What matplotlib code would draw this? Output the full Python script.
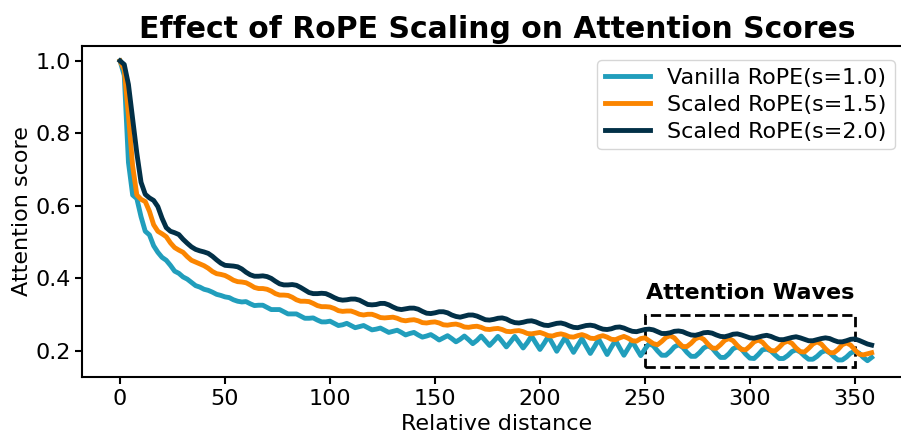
import numpy as np
import matplotlib as mpl
import matplotlib.pyplot as plt
from matplotlib.patches import Rectangle

mpl.use('agg')

# relative distance, sampled every 2 positions
distance = list(range(0, 360, 2))

# values
vanilla = [
    1.000, 0.960, 0.720, 0.630, 0.620, 0.570, 0.530, 0.520, 0.490, 0.472,
    0.458, 0.450, 0.436, 0.420, 0.414, 0.404, 0.398, 0.389, 0.380, 0.376,
    0.370, 0.367, 0.362, 0.356, 0.353, 0.349, 0.347, 0.341, 0.337, 0.335,
    0.336, 0.330, 0.325, 0.326, 0.326, 0.320, 0.314, 0.314, 0.314, 0.308,
    0.302, 0.302, 0.302, 0.296, 0.290, 0.290, 0.291, 0.285, 0.280, 0.280,
    0.282, 0.276, 0.270, 0.272, 0.276, 0.270, 0.264, 0.267, 0.270, 0.264,
    0.258, 0.260, 0.263, 0.257, 0.251, 0.254, 0.257, 0.251, 0.244, 0.248,
    0.251, 0.244, 0.238, 0.241, 0.245, 0.238, 0.230, 0.236, 0.242, 0.234,
    0.225, 0.232, 0.241, 0.231, 0.220, 0.229, 0.241, 0.228, 0.215, 0.227,
    0.240, 0.226, 0.211, 0.225, 0.240, 0.224, 0.208, 0.223, 0.241, 0.222,
    0.204, 0.221, 0.240, 0.220, 0.199, 0.218, 0.237, 0.216, 0.196, 0.215,
    0.234, 0.213, 0.193, 0.212, 0.232, 0.211, 0.190, 0.210, 0.229, 0.208,
    0.188, 0.207, 0.226, 0.206, 0.187, 0.205, 0.220, 0.214, 0.200, 0.188,
    0.188, 0.198, 0.211, 0.217, 0.210, 0.196, 0.185, 0.185, 0.195, 0.208,
    0.214, 0.208, 0.194, 0.182, 0.182, 0.192, 0.206, 0.211, 0.205, 0.191,
    0.180, 0.179, 0.190, 0.203, 0.205, 0.200, 0.189, 0.179, 0.179, 0.187,
    0.198, 0.203, 0.197, 0.186, 0.177, 0.177, 0.185, 0.196, 0.201, 0.195,
    0.184, 0.175, 0.175, 0.183, 0.194, 0.199, 0.194, 0.182, 0.173, 0.182,
]

scaled_15 = [
    1.000, 0.975, 0.850, 0.710, 0.630, 0.618, 0.612, 0.585, 0.548, 0.530,
    0.523, 0.515, 0.498, 0.485, 0.478, 0.472, 0.460, 0.450, 0.445, 0.440,
    0.435, 0.428, 0.419, 0.413, 0.411, 0.408, 0.402, 0.395, 0.391, 0.390,
    0.388, 0.382, 0.375, 0.372, 0.372, 0.370, 0.365, 0.358, 0.354, 0.354,
    0.353, 0.348, 0.341, 0.337, 0.337, 0.336, 0.331, 0.325, 0.322, 0.322,
    0.321, 0.317, 0.311, 0.309, 0.310, 0.310, 0.306, 0.301, 0.299, 0.301,
    0.301, 0.297, 0.292, 0.291, 0.292, 0.293, 0.290, 0.285, 0.283, 0.285,
    0.286, 0.283, 0.278, 0.277, 0.279, 0.280, 0.277, 0.272, 0.271, 0.273,
    0.274, 0.271, 0.266, 0.265, 0.267, 0.268, 0.265, 0.260, 0.259, 0.261,
    0.262, 0.259, 0.254, 0.253, 0.255, 0.256, 0.253, 0.248, 0.247, 0.249,
    0.251, 0.247, 0.242, 0.241, 0.245, 0.247, 0.244, 0.239, 0.238, 0.242,
    0.245, 0.241, 0.235, 0.234, 0.239, 0.242, 0.238, 0.232, 0.231, 0.236,
    0.240, 0.235, 0.228, 0.227, 0.234, 0.236, 0.228, 0.220, 0.217, 0.226,
    0.237, 0.242, 0.236, 0.223, 0.212, 0.212, 0.221, 0.233, 0.238, 0.232,
    0.219, 0.208, 0.207, 0.217, 0.229, 0.234, 0.228, 0.215, 0.204, 0.203,
    0.213, 0.225, 0.230, 0.224, 0.211, 0.201, 0.200, 0.210, 0.222, 0.227,
    0.221, 0.208, 0.198, 0.197, 0.207, 0.219, 0.225, 0.219, 0.206, 0.195,
    0.195, 0.204, 0.217, 0.222, 0.216, 0.203, 0.191, 0.189, 0.192, 0.195,
]

scaled_20 = [
    1.000, 0.990, 0.935, 0.840, 0.745, 0.665, 0.632, 0.622, 0.615, 0.598,
    0.566, 0.540, 0.530, 0.526, 0.521, 0.508, 0.497, 0.487, 0.480, 0.476,
    0.473, 0.469, 0.461, 0.451, 0.442, 0.436, 0.435, 0.434, 0.432, 0.426,
    0.417, 0.410, 0.406, 0.406, 0.407, 0.405, 0.400, 0.392, 0.385, 0.382,
    0.382, 0.383, 0.381, 0.375, 0.368, 0.361, 0.358, 0.358, 0.359, 0.358,
    0.353, 0.347, 0.342, 0.340, 0.341, 0.343, 0.343, 0.340, 0.334, 0.328,
    0.327, 0.328, 0.331, 0.331, 0.327, 0.321, 0.316, 0.314, 0.316, 0.318,
    0.318, 0.315, 0.309, 0.304, 0.303, 0.305, 0.308, 0.308, 0.305, 0.299,
    0.295, 0.293, 0.296, 0.299, 0.299, 0.296, 0.291, 0.286, 0.285, 0.287,
    0.290, 0.291, 0.288, 0.282, 0.278, 0.277, 0.279, 0.282, 0.283, 0.280,
    0.275, 0.271, 0.270, 0.273, 0.276, 0.277, 0.274, 0.269, 0.265, 0.264,
    0.267, 0.270, 0.271, 0.269, 0.264, 0.260, 0.259, 0.261, 0.265, 0.266,
    0.263, 0.258, 0.254, 0.253, 0.256, 0.259, 0.260, 0.258, 0.253, 0.248,
    0.248, 0.250, 0.254, 0.255, 0.253, 0.248, 0.244, 0.243, 0.246, 0.250,
    0.251, 0.249, 0.244, 0.240, 0.239, 0.242, 0.246, 0.247, 0.244, 0.240,
    0.236, 0.235, 0.238, 0.241, 0.243, 0.240, 0.235, 0.231, 0.231, 0.234,
    0.237, 0.239, 0.236, 0.232, 0.228, 0.228, 0.231, 0.234, 0.236, 0.234,
    0.229, 0.225, 0.225, 0.228, 0.232, 0.233, 0.229, 0.224, 0.219, 0.216,
]

labels = ['Vanilla RoPE(s=1.0)', 'Scaled RoPE(s=1.5)', 'Scaled RoPE(s=2.0)']
colors = ['#219ebc', '#fb8500', '#023047']

fig = plt.figure(figsize=(9.01, 4.37), dpi=100)
ax = fig.add_axes([0.0913, 0.1373, 0.9204, 0.7574])

for series, label, color in zip([vanilla, scaled_15, scaled_20], labels, colors):
    ax.plot(distance, series, color=color, linewidth=3.5, label=label)

ax.set_xlim(-18, 377)
ax.set_ylim(0.128, 1.041)
ax.set_xticks([0, 50, 100, 150, 200, 250, 300, 350])
ax.set_yticks([0.2, 0.4, 0.6, 0.8, 1.0])
ax.tick_params(labelsize=16, width=1.5, length=5)
for sp in ax.spines.values():
    sp.set_linewidth(1.5)

ax.set_xlabel('Relative distance', fontsize=16, labelpad=4)
ax.set_ylabel('Attention score', fontsize=16, labelpad=2)
ax.set_title('Effect of RoPE Scaling on Attention Scores', fontsize=21.5,
             fontweight='bold', pad=6)

# dashed box around the wavy region
ax.add_patch(Rectangle((250, 0.155), 100, 0.145, fill=False,
                       edgecolor='black', linestyle='--', linewidth=2))
ax.text(300, 0.333, 'Attention Waves', fontsize=16, fontweight='bold',
        ha='center', va='bottom')

ax.legend(loc='upper right', fontsize=16, bbox_to_anchor=(0.993, 0.99),
          handlelength=2.0, borderpad=0.35, labelspacing=0.3)

fig.savefig('out.png')
